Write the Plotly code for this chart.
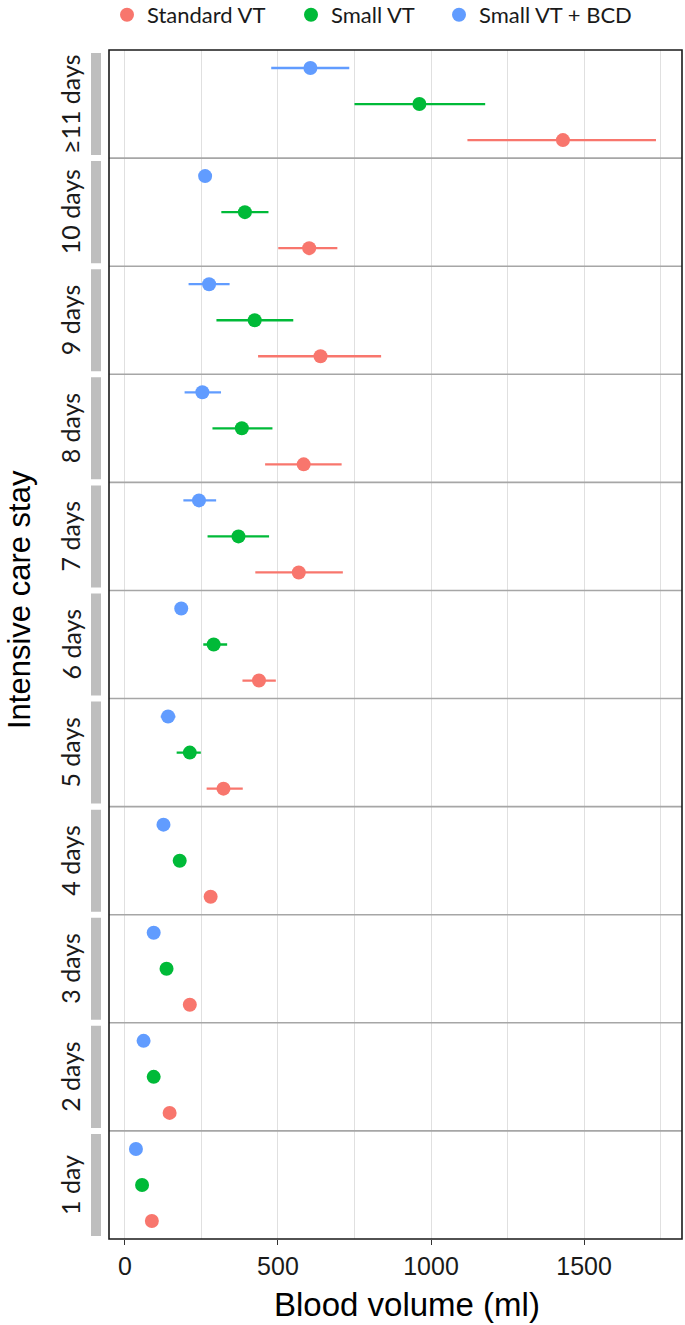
import plotly.graph_objects as go
from plotly.subplots import make_subplots

# ---------------- data ----------------
facets = ["1 day", "2 days", "3 days", "4 days", "5 days", "6 days",
          "7 days", "8 days", "9 days", "10 days", "\u226511 days"]

series_names = ["Standard VT", "Small VT", "Small VT + BCD"]
series_colors = ["#F8766D", "#00BA38", "#619CFF"]

standard_mid = [88, 146, 212, 280, 322, 438, 568, 584, 639, 602, 1431]
standard_lo = [80, 136, 200, 266, 267, 384, 426, 458, 435, 501, 1119]
standard_hi = [96, 156, 224, 294, 385, 493, 712, 708, 837, 694, 1735]

small_mid = [56, 94, 136, 179, 212, 290, 371, 382, 424, 392, 962]
small_lo = [50, 87, 128, 170, 169, 256, 270, 286, 299, 315, 750]
small_hi = [62, 101, 144, 188, 248, 334, 471, 482, 550, 469, 1177]

bcd_mid = [36, 61, 94, 126, 141, 184, 242, 253, 275, 262, 606]
bcd_lo = [33, 56, 88, 119, 117, 172, 191, 195, 208, 250, 478]
bcd_hi = [39, 66, 100, 133, 165, 196, 298, 314, 342, 274, 733]

x_ticks = [0, 500, 1000, 1500]
x_title = "Blood volume (ml)"
y_title = "Intensive care stay"

series = [
    (standard_mid, standard_lo, standard_hi),
    (small_mid, small_lo, small_hi),
    (bcd_mid, bcd_lo, bcd_hi),
]

# ---------------- figure ----------------
W, H = 685, 1325
L, R, T, B = 109, 3, 50, 86
PW = W - L - R
PH = H - T - B
n = len(facets)
legend_ids = ["legend", "legend2", "legend3"]
legend_left_px = [107, 291, 439]

fig = make_subplots(rows=n, cols=1, shared_xaxes=True, vertical_spacing=0)

for row in range(1, n + 1):
    fi = n - row  # facet index (top row = last facet)
    for si, (name, color) in enumerate(zip(series_names, series_colors)):
        mid, lo, hi = series[si]
        m = mid[fi]
        fig.add_trace(
            go.Scatter(
                x=[m], y=[name], mode="markers",
                marker=dict(color=color, size=14, line=dict(width=0)),
                error_x=dict(type="data", symmetric=False,
                             array=[hi[fi] - m], arrayminus=[m - lo[fi]],
                             color=color, thickness=2.3, width=0),
                name=name, legendgroup=name, showlegend=(row == 1),
                legend=legend_ids[si],
                hoverinfo="x+name",
            ),
            row=row, col=1,
        )
    fig.update_yaxes(type="category", categoryorder="array",
                     categoryarray=series_names, range=[-0.5, 2.5],
                     showticklabels=False, showgrid=False, zeroline=False,
                     showline=False, ticks="", row=row, col=1)
    fig.update_xaxes(range=[-52, 1820], tickvals=x_ticks, showgrid=True,
                     gridcolor="#E0E0E0", gridwidth=1, zeroline=False,
                     showline=False,
                     minor=dict(dtick=250, tick0=0, showgrid=True,
                                gridcolor="#E0E0E0", gridwidth=1),
                     row=row, col=1)
    # strip bar and label
    yd = "y domain" if row == 1 else f"y{row} domain"
    fig.add_shape(type="rect", xref="paper", yref=yd,
                  x0=(91 - L) / PW, x1=(101 - L) / PW,
                  y0=0.028, y1=0.972, fillcolor="#BEBEBE", line=dict(width=0),
                  layer="above")
    fig.add_annotation(text=facets[fi], xref="paper", yref=yd,
                       x=(70 - L) / PW, y=0.5, showarrow=False,
                       textangle=-90, xanchor="center", yanchor="middle",
                       font=dict(family="Lato, Open Sans, sans-serif", size=25,
                                 color="#1a1a1a"))
    # facet divider lines
    if row < n:
        fig.add_shape(type="line", xref="paper", yref=yd,
                      x0=0, x1=1, y0=0, y1=0,
                      line=dict(color="#A6A6A6", width=1.6), layer="above")

# bottom axis ticks and labels
fig.update_xaxes(ticks="outside", ticklen=5, tickcolor="#333333", tickwidth=1,
                 tickfont=dict(family="Liberation Sans, Arial, sans-serif",
                               size=25, color="#1a1a1a"),
                 row=n, col=1)

# outer border
fig.add_shape(type="rect", xref="paper", yref="paper", x0=0, x1=1, y0=0, y1=1,
              line=dict(color="#1a1a1a", width=1.6), layer="above")

# axis titles
fig.add_annotation(text=x_title, xref="paper", yref="paper",
                   x=(407 - L) / PW, y=-(1304 - (H - B)) / PH,
                   showarrow=False, xanchor="center", yanchor="middle",
                   font=dict(family="Liberation Sans, Arial, sans-serif",
                             size=33, color="#000000"))
fig.add_annotation(text=y_title, xref="paper", yref="paper",
                   x=(19 - L) / PW, y=1 - (600 - T) / PH,
                   showarrow=False, textangle=-90, xanchor="center",
                   yanchor="middle",
                   font=dict(family="Liberation Sans, Arial, sans-serif",
                             size=31, color="#000000"))

legend_common = dict(
    orientation="h", xanchor="left", yanchor="middle",
    y=1 + (T - 15) / PH,
    font=dict(family="Lato, Open Sans, sans-serif", size=22, color="#1a1a1a"),
    itemwidth=30, tracegroupgap=0, bgcolor="rgba(0,0,0,0)",
)

fig.update_layout(
    width=W, height=H,
    margin=dict(l=L, r=R, t=T, b=B, autoexpand=False),
    paper_bgcolor="white", plot_bgcolor="white",
    legend=dict(x=(legend_left_px[0] - L) / PW, **legend_common),
    legend2=dict(x=(legend_left_px[1] - L) / PW, **legend_common),
    legend3=dict(x=(legend_left_px[2] - L) / PW, **legend_common),
    showlegend=True,
)

fig.write_html(
    "out.html",
    config={"displayModeBar": False},
    post_script="document.body.style.margin='0px';"
                "document.body.style.overflow='hidden';",
)
